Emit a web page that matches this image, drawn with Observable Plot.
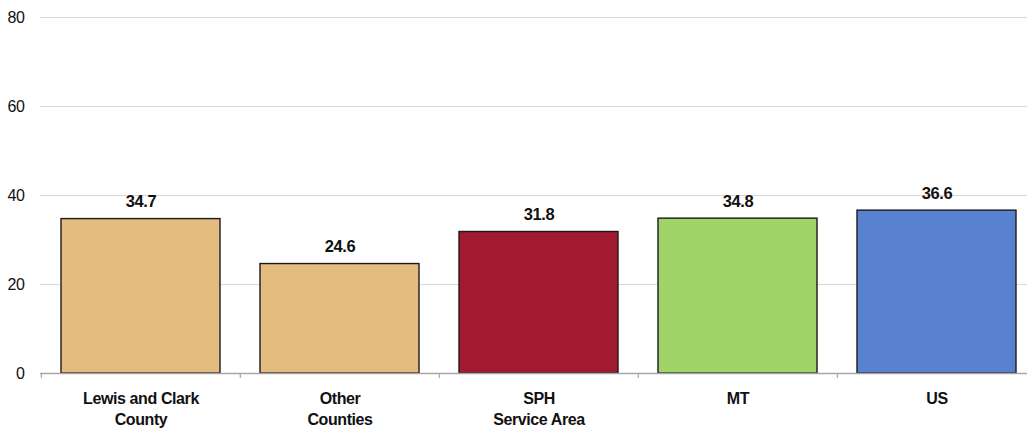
<!DOCTYPE html>
<html>
<head>
<meta charset="utf-8">
<script src="https://cdn.jsdelivr.net/npm/d3@7"></script>
<script src="https://cdn.jsdelivr.net/npm/@observablehq/plot@0.6"></script>
<style>
  html, body { margin: 0; padding: 0; background: #fff; }
  #chart svg { display: block; }
  #chart svg text { letter-spacing: -0.4px; }
</style>
</head>
<body>
<div id="chart"></div>
<script>
const categories = ["Lewis and Clark County", "Other Counties", "SPH Service Area", "MT", "US"];
const tickLabels = ["Lewis and Clark\nCounty", "Other\nCounties", "SPH\nService Area", "MT", "US"];
const values = [34.7, 24.6, 31.8, 34.8, 36.6];
const valueLabels = ["34.7", "24.6", "31.8", "34.8", "36.6"];
const colors = ["#E4BC80", "#E4BC80", "#A21A30", "#A0D468", "#5882D0"];
const yTicks = [0, 20, 40, 60, 80];

const data = categories.map((c, i) => ({cat: c, value: values[i], label: valueLabels[i], tick: tickLabels[i], color: colors[i]}));

const FONT = "'Liberation Sans Narrow', 'Arial Narrow', 'Liberation Sans', Arial, sans-serif";
const W = 1027, H = 430, ML = 40;
const xRange = [ML, 1037];
const step = (xRange[1] - xRange[0]) / categories.length;

const chart = Plot.plot({
  width: W,
  height: H,
  marginLeft: ML,
  marginRight: 0,
  marginTop: 17,
  marginBottom: 57,
  style: {fontFamily: FONT, background: "#fff", overflow: "visible"},
  x: {domain: categories, range: xRange, paddingInner: 0.2, paddingOuter: 0.1, axis: null},
  y: {domain: [0, 80], ticks: yTicks, axis: null},
  marks: [
    Plot.gridY(yTicks, {stroke: "#d9d9d9", strokeOpacity: 1, strokeWidth: 1}),
    Plot.axisY(yTicks, {tickSize: 0, tickPadding: 16, fontSize: 16, fill: "#111", label: null}),
    Plot.barY(data, {x: "cat", y: "value", fill: "color", stroke: "#1a1a1a", strokeWidth: 1.4}),
    Plot.ruleY([0], {stroke: "#a6a6a6", strokeWidth: 1.5}),
    Plot.ruleX(categories, {x: d => d, y1: 0, y2: 0, insetBottom: -5, dx: -step / 2, stroke: "#a6a6a6", strokeWidth: 1.2}),
    Plot.text(data, {x: "cat", y: "value", text: "label", lineAnchor: "bottom", dy: -12, fontSize: 16.5, fontWeight: "bold", fill: "#111"}),
    Plot.text(data, {x: "cat", y: d => 0, text: "tick", lineAnchor: "top", dy: 15, lineHeight: 1.35, fontSize: 16, fontWeight: "bold", fill: "#111"})
  ]
});
document.getElementById("chart").appendChild(chart);
</script>
</body>
</html>
